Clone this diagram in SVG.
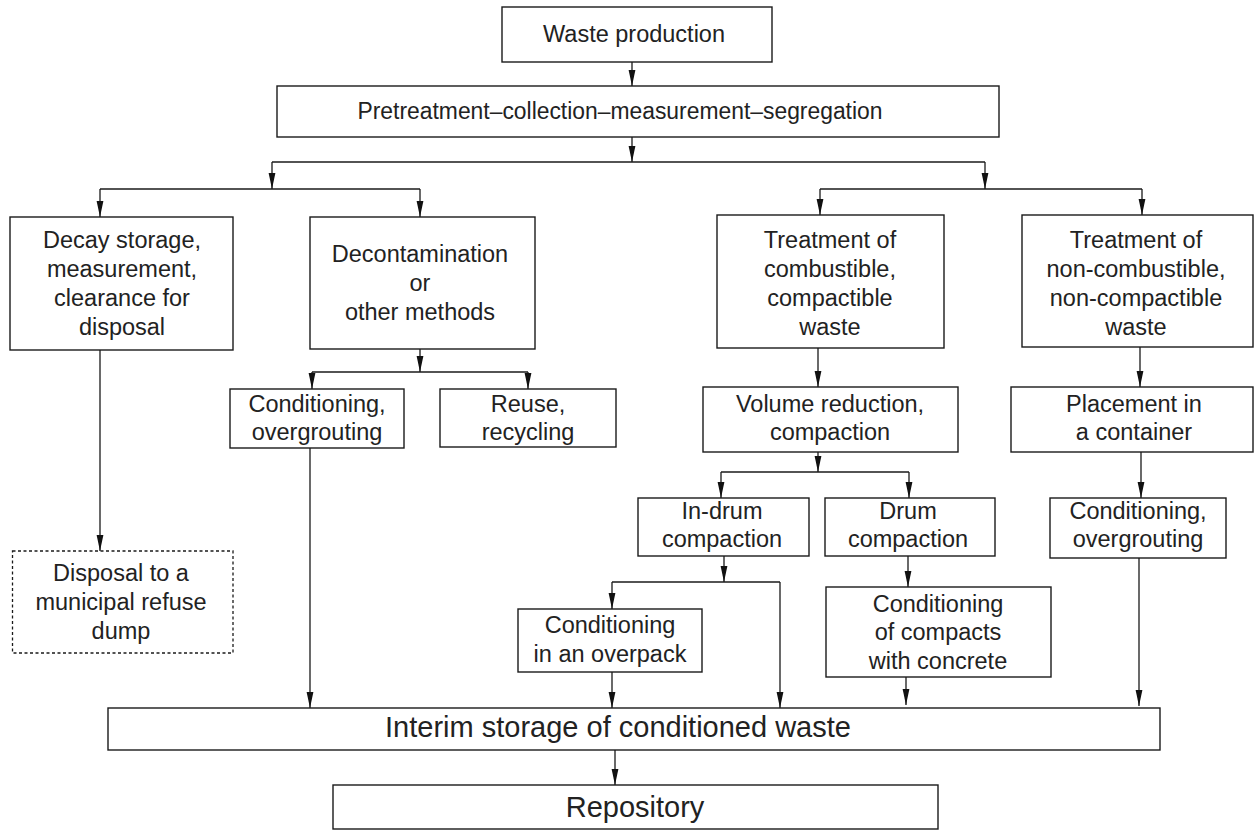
<svg xmlns="http://www.w3.org/2000/svg" width="1254" height="831" viewBox="0 0 1254 831">
<defs>
<style>
.box{fill:#fff;stroke:#1a1a1a;stroke-width:1.4}
.dash{fill:#fff;stroke:#1a1a1a;stroke-width:1.3;stroke-dasharray:3 2.5}
.t{font-family:"Liberation Sans",Arial,Helvetica,sans-serif;font-size:23.5px;fill:#222;text-anchor:middle}
.big{font-size:29px}
.ln{fill:none;stroke:#1a1a1a;stroke-width:1.3}
.ar{fill:none;stroke:#1a1a1a;stroke-width:1.3;marker-end:url(#ah)}
</style>
<marker id="ah" viewBox="0 0 16 8" refX="16" refY="4" markerWidth="16" markerHeight="8" markerUnits="userSpaceOnUse" orient="auto">
<path d="M0,0.6 L16,4 L0,7.4 z" fill="#111"/>
</marker>
</defs>
<rect width="1254" height="831" fill="#fff"/>

<g id="connectors">
<path class="ar" d="M632,62 V86"/>
<path class="ar" d="M632,137 V162"/>
<path class="ln" d="M272,162 H985"/>
<path class="ar" d="M272,162 V189"/>
<path class="ar" d="M985,162 V189"/>
<path class="ln" d="M100,189 H420"/>
<path class="ln" d="M820,189 H1142"/>
<path class="ar" d="M100,189 V217"/>
<path class="ar" d="M420,189 V217"/>
<path class="ar" d="M820,189 V215"/>
<path class="ar" d="M1142,189 V215"/>
<path class="ar" d="M100,350 V551"/>
<path class="ar" d="M420,349 V372"/>
<path class="ln" d="M312,372 H528"/>
<path class="ar" d="M312,372 V389"/>
<path class="ar" d="M528,372 V389"/>
<path class="ar" d="M310,448 V708"/>
<path class="ar" d="M818,348 V387"/>
<path class="ar" d="M1140,347 V387"/>
<path class="ar" d="M818,452 V472"/>
<path class="ln" d="M721,472 H909"/>
<path class="ar" d="M721,472 V498"/>
<path class="ar" d="M909,472 V498"/>
<path class="ar" d="M1141,452 V498"/>
<path class="ar" d="M724,556 V582"/>
<path class="ln" d="M612,582 H780"/>
<path class="ar" d="M612,582 V609"/>
<path class="ar" d="M780,582 V708"/>
<path class="ar" d="M908,556 V587"/>
<path class="ar" d="M612,672 V708"/>
<path class="ar" d="M906,677 V705"/>
<path class="ar" d="M1139,558 V706"/>
<path class="ar" d="M615,750 V785"/>
</g>

<g id="waste-production">
<rect class="box" x="502" y="7" width="270" height="55"/>
<text class="t" x="634" y="42">Waste production</text>
</g>

<g id="pretreatment">
<rect class="box" x="277" y="86" width="722" height="51"/>
<text class="t" x="620" y="119" textLength="525" lengthAdjust="spacingAndGlyphs">Pretreatment–collection–measurement–segregation</text>
</g>

<g id="decay-storage">
<rect class="box" x="10" y="217" width="223" height="133"/>
<text class="t"><tspan x="122" y="248">Decay storage,</tspan><tspan x="122" y="277">measurement,</tspan><tspan x="122" y="306">clearance for</tspan><tspan x="122" y="335">disposal</tspan></text>
</g>

<g id="decontamination">
<rect class="box" x="310" y="217" width="225" height="132"/>
<text class="t"><tspan x="420" y="262">Decontamination</tspan><tspan x="420" y="291">or</tspan><tspan x="420" y="320">other methods</tspan></text>
</g>

<g id="treatment-combustible">
<rect class="box" x="717" y="215" width="227" height="133"/>
<text class="t"><tspan x="830" y="248">Treatment of</tspan><tspan x="830" y="277">combustible,</tspan><tspan x="830" y="306">compactible</tspan><tspan x="830" y="335">waste</tspan></text>
</g>

<g id="treatment-noncombustible">
<rect class="box" x="1022" y="215" width="231" height="132"/>
<text class="t"><tspan x="1136" y="248">Treatment of</tspan><tspan x="1136" y="277">non-combustible,</tspan><tspan x="1136" y="306">non-compactible</tspan><tspan x="1136" y="335">waste</tspan></text>
</g>

<g id="conditioning-overgrouting-left">
<rect class="box" x="230" y="389" width="174" height="59"/>
<text class="t"><tspan x="317" y="412">Conditioning,</tspan><tspan x="317" y="440">overgrouting</tspan></text>
</g>

<g id="reuse-recycling">
<rect class="box" x="440" y="389" width="176" height="58"/>
<text class="t"><tspan x="528" y="412">Reuse,</tspan><tspan x="528" y="440">recycling</tspan></text>
</g>

<g id="volume-reduction">
<rect class="box" x="703" y="387" width="255" height="65"/>
<text class="t"><tspan x="830" y="412">Volume reduction,</tspan><tspan x="830" y="440">compaction</tspan></text>
</g>

<g id="placement">
<rect class="box" x="1011" y="387" width="242" height="65"/>
<text class="t"><tspan x="1134" y="412">Placement in</tspan><tspan x="1134" y="440">a container</tspan></text>
</g>

<g id="disposal-dump">
<rect class="dash" x="12.5" y="551" width="220.5" height="102"/>
<text class="t"><tspan x="121" y="581">Disposal to a</tspan><tspan x="121" y="610">municipal refuse</tspan><tspan x="121" y="639">dump</tspan></text>
</g>

<g id="in-drum-compaction">
<rect class="box" x="638" y="498" width="171" height="58"/>
<text class="t"><tspan x="722" y="519">In-drum</tspan><tspan x="722" y="547">compaction</tspan></text>
</g>

<g id="drum-compaction">
<rect class="box" x="825" y="498" width="170" height="58"/>
<text class="t"><tspan x="908" y="519">Drum</tspan><tspan x="908" y="547">compaction</tspan></text>
</g>

<g id="conditioning-overgrouting-right">
<rect class="box" x="1050" y="498" width="176" height="60"/>
<text class="t"><tspan x="1138" y="519">Conditioning,</tspan><tspan x="1138" y="547">overgrouting</tspan></text>
</g>

<g id="conditioning-overpack">
<rect class="box" x="518" y="609" width="184" height="63"/>
<text class="t"><tspan x="610" y="633">Conditioning</tspan><tspan x="610" y="662">in an overpack</tspan></text>
</g>

<g id="conditioning-compacts">
<rect class="box" x="826" y="587" width="225" height="90"/>
<text class="t"><tspan x="938" y="612">Conditioning</tspan><tspan x="938" y="640">of compacts</tspan><tspan x="938" y="669">with concrete</tspan></text>
</g>

<g id="interim-storage">
<rect class="box" x="108" y="708" width="1052" height="42"/>
<text class="t big" x="618" y="737">Interim storage of conditioned waste</text>
</g>

<g id="repository">
<rect class="box" x="333" y="785" width="605" height="44"/>
<text class="t big" x="635" y="817">Repository</text>
</g>
</svg>
